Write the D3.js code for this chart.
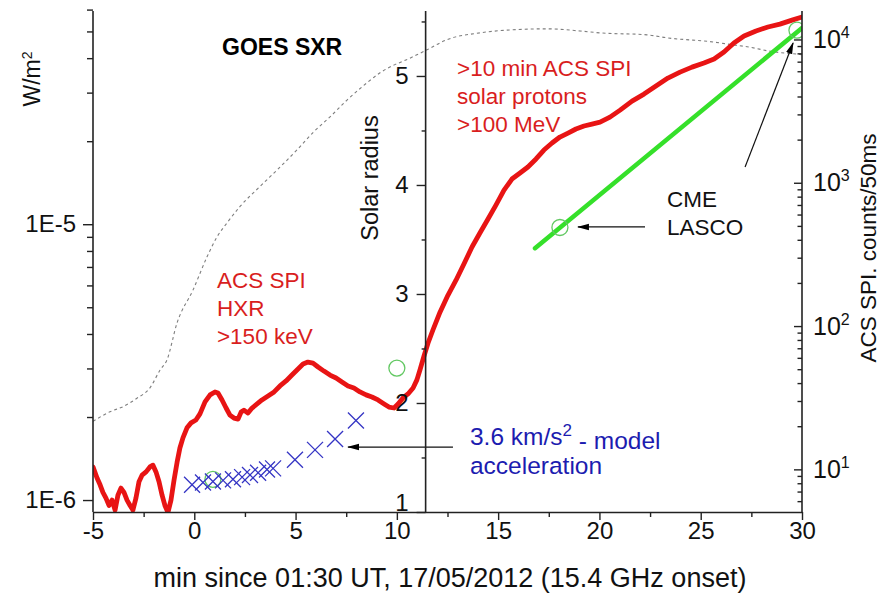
<!DOCTYPE html>
<html>
<head>
<meta charset="utf-8">
<script src="https://cdn.jsdelivr.net/npm/d3@7"></script>
<style>
  body { margin: 0; background: #fff; }
  svg { display: block; font-family: "Liberation Sans", Arial, sans-serif; }
</style>
</head>
<body>
<svg id="chart" width="882" height="598"></svg>
<script>
// ---- axis tick values ----
const timeTicks   = d3.range(-5, 30.01, 2.5);          // minutes, labels every 5
const radiusTicks = d3.range(1, 5.51, 0.5);            // solar radii, labels on integers
const fluxTicks   = [1e-6,2e-6,3e-6,4e-6,5e-6,6e-6,7e-6,8e-6,9e-6,1e-5,2e-5,3e-5,4e-5,5e-5,6e-5];
const fluxLabels  = {"0.000001": "1E-6", "0.00001": "1E-5"};
const countTicks  = [6,7,8,9,10,20,30,40,50,60,70,80,90,100,200,300,400,500,600,700,800,900,
                     1000,2000,3000,4000,5000,6000,7000,8000,9000,10000];

// ---- ACS SPI counts / 50 ms (HXR >150 keV, then protons >100 MeV) ----
const spiTime = [-5.00,-4.80,-4.65,-4.51,-4.36,-4.21,-4.06,-3.91,-3.77,-3.62,
  -3.47,-3.32,-3.17,-3.03,-2.88,-2.73,-2.58,-2.38,-2.19,-2.04,
  -1.89,-1.74,-1.59,-1.45,-1.30,-1.15,-1.00,-0.85,-0.71,-0.56,
  -0.36,-0.16,0.08,0.28,0.53,0.78,1.02,1.17,1.37,1.57,
  1.76,1.96,2.16,2.31,2.45,2.65,2.85,3.10,3.34,3.64,
  3.94,4.23,4.53,4.82,5.12,5.37,5.61,5.86,6.11,6.40,
  6.70,7.00,7.29,7.59,7.88,8.18,8.48,8.77,9.07,9.37,
  9.61,9.86,10.06,10.30,10.55,10.80,10.99,11.14,11.34,11.54,
  11.78,12.13,12.52,12.92,13.31,13.71,14.10,14.50,14.89,15.29,
  15.68,16.08,16.47,16.87,17.26,17.66,18.05,18.45,18.84,19.24,
  19.63,20.03,20.52,21.02,21.61,22.20,22.79,23.38,23.98,24.57,
  25.16,25.66,26.15,26.64,27.14,27.73,28.32,28.91,29.51,30.00];
const spiCounts = [10.4,8.7,7.8,6.9,6.3,5.6,6.1,5.2,6.6,7.4,
  6.9,6.1,5.6,5.2,6.3,8.2,9.1,9.6,10.4,10.7,
  9.6,8.2,6.6,5.6,5.0,6.1,8.4,11.2,14.1,16.6,
  19.5,21.1,22.1,24.4,29.6,33.1,34.7,34.1,30.5,26.8,
  23.9,22.8,22.4,25.1,25.9,24.7,26.8,28.6,30.5,32.5,
  34.7,38.2,41.4,45.5,50.1,54.3,56.1,55.2,51.8,48.5,
  45.5,43.4,40.7,38.2,37.0,34.7,33.1,32.0,30.5,28.6,
  27.2,26.8,28.6,31.5,33.6,37.0,42.1,49.4,61.8,76.2,
  93.9,125,164,209,271,356,446,558,698,889,
  1062,1169,1288,1466,1692,1894,2085,2223,2372,2489,
  2566,2650,2871,3213,3715,4159,4730,5380,5918,6413,
  6844,7297,8166,9443,10570,11460,12220,12800,13650,14330];

// ---- GOES soft X-ray flux, W/m^2 ----
const goesTime = [-5,-4.16,-3.52,-2.83,-2.19,-1.69,-1.35,-0.85,-0.06,0.63,
  1.12,1.61,2.26,3.24,4.23,5.07,5.86,6.70,7.54,8.33,
  9.17,10.80,11.49,12.48,14.10,15.73,17.41,19.04,20.03,22.35,
  23.34,25.61,26.60,27.29,28.57,29.56,30];
const goesFlux = [1.93e-6,2.09e-6,2.18e-6,2.34e-6,2.55e-6,2.96e-6,3.22e-6,4.39e-6,5.78e-6,7.62e-6,
  8.99e-6,1.01e-5,1.16e-5,1.37e-5,1.61e-5,1.86e-5,2.15e-5,2.45e-5,2.82e-5,3.17e-5,
  3.54e-5,4.05e-5,4.29e-5,4.67e-5,4.94e-5,5.07e-5,5.11e-5,5.02e-5,4.94e-5,4.86e-5,
  4.74e-5,4.58e-5,4.47e-5,4.40e-5,4.22e-5,4.15e-5,4.12e-5];

// ---- model heights for 3.6 km/s^2 acceleration, solar radii ----
const modelTime   = [-0.11,0.43,0.92,1.42,1.91,2.36,2.75,3.15,3.59,3.89,4.97,5.96,6.95,7.98];
const modelRadius = [1.25,1.27,1.28,1.29,1.30,1.32,1.34,1.36,1.39,1.40,1.48,1.57,1.67,1.84];

// ---- CME heights (LASCO) and linear fit, solar radii ----
const cmeTime   = [0.92, 10.0, 18.05, 29.75];
const cmeRadius = [1.30, 2.32, 3.61, 5.42];
const fitTime   = [16.82, 30.0];
const fitRadius = [3.42, 5.44];

// ---- layout ----
const WIDTH = 882, HEIGHT = 598;
const plotL = 93, plotR = 802, plotT = 11, plotB = 512;
const radiusAxisTime = 11.42;

const svg = d3.select("#chart");
svg.append("rect").attr("width", WIDTH).attr("height", HEIGHT).attr("fill", "#fff");

const x  = d3.scaleLinear().domain([-5, 30]).range([plotL, plotR]);
const yR = d3.scaleLinear().domain([1, 5.596]).range([plotB, plotT]);
const yW = d3.scaleLog().domain([9.05e-7, 5.93e-5]).range([plotB, plotT]);
const yC = d3.scaleLog().domain([5.04, 15800]).range([plotB, plotT]);

const defs = svg.append("defs");
defs.append("clipPath").attr("id", "plot")
  .append("rect").attr("x", plotL).attr("y", plotT)
  .attr("width", plotR - plotL).attr("height", plotB - plotT);
defs.append("marker").attr("id", "head")
  .attr("viewBox", "0 0 12 8").attr("refX", 11).attr("refY", 4)
  .attr("markerWidth", 12).attr("markerHeight", 8)
  .attr("markerUnits", "userSpaceOnUse").attr("orient", "auto")
  .append("path").attr("d", "M0,0.8 L12,4 L0,7.2 Z").attr("fill", "#000");

const plot = svg.append("g").attr("clip-path", "url(#plot)");

// GOES SXR (dashed)
plot.append("path")
  .datum(goesTime.map((t, i) => [t, goesFlux[i]]))
  .attr("fill", "none").attr("stroke", "#7e7e7e").attr("stroke-width", 1.1)
  .attr("stroke-dasharray", "3,3")
  .attr("d", d3.line().x(d => x(d[0])).y(d => yW(d[1])).curve(d3.curveMonotoneX));

// ACS SPI counts
plot.append("path")
  .datum(spiTime.map((t, i) => [t, spiCounts[i]]))
  .attr("fill", "none").attr("stroke", "#e81414").attr("stroke-width", 4.8)
  .attr("stroke-linejoin", "round").attr("stroke-linecap", "round")
  .attr("d", d3.line().x(d => x(d[0])).y(d => yC(d[1])));

// CME linear fit
plot.append("path")
  .datum(fitTime.map((t, i) => [t, fitRadius[i]]))
  .attr("fill", "none").attr("stroke", "#35e02a").attr("stroke-width", 4.5)
  .attr("stroke-linecap", "round")
  .attr("d", d3.line().x(d => x(d[0])).y(d => yR(d[1])));

// CME points
plot.selectAll("circle.cme")
  .data(cmeTime.map((t, i) => [t, cmeRadius[i]]))
  .join("circle").attr("class", "cme")
  .attr("cx", d => x(d[0])).attr("cy", d => yR(d[1])).attr("r", 8)
  .attr("fill", "none").attr("stroke", "#62c862").attr("stroke-width", 1.3);

// model acceleration crosses
plot.selectAll("path.model")
  .data(modelTime.map((t, i) => [t, modelRadius[i]]))
  .join("path").attr("class", "model")
  .attr("transform", d => `translate(${x(d[0])},${yR(d[1])})`)
  .attr("d", "M-8,-8L8,8M-8,8L8,-8")
  .attr("stroke", "#3434c4").attr("stroke-width", 1.3).attr("fill", "none");

// arrows
const arrows = [
  {from: [22.25, 3.615], to: [18.94, 3.615]},
  {from: [12.77, 1.596], to: [7.59, 1.596]},
  {from: [27.19, 4.165], to: [29.56, 5.303]}
];
svg.selectAll("line.arrow").data(arrows).join("line").attr("class", "arrow")
  .attr("x1", d => x(d.from[0])).attr("y1", d => yR(d.from[1]))
  .attr("x2", d => x(d.to[0])).attr("y2", d => yR(d.to[1]))
  .attr("stroke", "#111").attr("stroke-width", 1.2)
  .attr("marker-end", "url(#head)");

// ---- axes ----
function styleAxis(g, size) {
  g.selectAll("path.domain").attr("stroke", "#222").attr("stroke-width", 1.6);
  g.selectAll(".tick line").attr("stroke", "#222").attr("stroke-width", 1.4);
  g.selectAll(".tick text").attr("fill", "#111").attr("font-size", size || 24)
    .attr("font-family", "'Liberation Sans', Arial, sans-serif");
}

// bottom time axis
const gx = svg.append("g").attr("transform", `translate(0,${plotB})`)
  .call(d3.axisBottom(x).tickValues(timeTicks).tickSize(8).tickSizeOuter(0).tickPadding(2)
    .tickFormat(d => (Math.abs(d % 5) < 1e-9 ? String(d) : "")));
gx.selectAll(".tick").filter(d => Math.abs(d % 5) > 1e-9).select("line").attr("y2", 5);
styleAxis(gx);

// left flux axis
const gw = svg.append("g").attr("transform", `translate(${plotL},0)`)
  .call(d3.axisLeft(yW).tickValues(fluxTicks).tickSize(10).tickSizeOuter(0).tickPadding(7)
    .tickFormat(d => fluxLabels[String(d)] || ""));
gw.selectAll(".tick").filter(d => !fluxLabels[String(d)]).select("line").attr("x2", -6);
gw.select("path.domain").attr("d", `M0,${plotT}V${plotB}`);
styleAxis(gw);

// middle radius axis
const gr = svg.append("g").attr("transform", `translate(${x(radiusAxisTime)},0)`)
  .call(d3.axisLeft(yR).tickValues(radiusTicks).tickSize(9).tickSizeOuter(0).tickPadding(8)
    .tickFormat(d => (Number.isInteger(d) ? String(d) : "")));
gr.selectAll(".tick").filter(d => !Number.isInteger(d)).select("line").attr("x2", -4);
gr.select("path.domain").attr("d", `M0,${plotT}V${plotB}`);
styleAxis(gr);
// lift the lowest label clear of the time-axis labels
gr.selectAll(".tick").filter(d => d === 1).select("text").attr("y", -9);

// right counts axis (ticks inward, labels as powers of ten)
const isDecade = d => Math.abs(Math.log10(d) - Math.round(Math.log10(d))) < 1e-9;
const gc = svg.append("g").attr("transform", `translate(${plotR},0)`)
  .call(d3.axisRight(yC).tickValues(countTicks).tickSize(-8).tickSizeOuter(0).tickPadding(11)
    .tickFormat(() => ""));
gc.selectAll(".tick").filter(d => !isDecade(d)).select("line").attr("x2", -4.5);
gc.select("path.domain").attr("d", `M0,${plotT}V${plotB}`);
styleAxis(gc, 25);
gc.selectAll(".tick").filter(d => isDecade(d)).select("text")
  .each(function (d) {
    const t = d3.select(this);
    t.text("10");
    t.append("tspan").attr("dy", "-0.62em").attr("font-size", 16)
      .text(Math.round(Math.log10(d)));
  });

// ---- axis titles ----
const wTitle = svg.append("text")
  .attr("transform", `translate(40,79) rotate(-90)`)
  .attr("text-anchor", "middle").attr("font-size", 23).attr("fill", "#111");
wTitle.append("tspan").text("W/m");
wTitle.append("tspan").attr("dy", "-0.6em").attr("font-size", 14).text("2");

svg.append("text")
  .attr("transform", `translate(378,178) rotate(-90)`)
  .attr("text-anchor", "middle").attr("font-size", 23.5).attr("fill", "#111")
  .text("Solar radius");

svg.append("text")
  .attr("transform", `translate(876,248) rotate(-90)`)
  .attr("text-anchor", "middle").attr("font-size", 22.5).attr("fill", "#111")
  .text("ACS SPI. counts/50ms");

svg.append("text")
  .attr("x", 450).attr("y", 587)
  .attr("text-anchor", "middle").attr("font-size", 27).attr("fill", "#111")
  .text("min since 01:30 UT, 17/05/2012 (15.4 GHz onset)");

// ---- annotations ----
function block(t, r, lines, color, size, weight) {
  const g = svg.append("text")
    .attr("x", x(t)).attr("y", yR(r))
    .attr("font-size", size).attr("fill", color).attr("font-weight", weight || "normal");
  lines.forEach((s, i) => g.append("tspan").attr("x", x(t)).attr("dy", i ? 28 : 0).text(s));
  return g;
}
block(1.37, 5.193, ["GOES SXR"], "#000", 23, "bold");
block(1.12, 3.055, ["ACS SPI", "HXR", ">150 keV"], "#d91e1e", 22.5);
block(12.97, 5.0, [">10 min ACS SPI", "solar protons", ">100 MeV"], "#d91e1e", 22.5);
block(23.34, 3.798, ["CME", "LASCO"], "#111", 22.5);

const acc = svg.append("text").attr("x", x(13.61)).attr("y", yR(1.615))
  .attr("font-size", 24.5).attr("fill", "#1c1cb0");
acc.append("tspan").text("3.6 km/s");
acc.append("tspan").attr("dy", "-0.5em").attr("font-size", 17).text("2");
acc.append("tspan").attr("dy", "0.5em").text(" - model");
svg.append("text").attr("x", x(13.61)).attr("y", yR(1.615) + 29)
  .attr("font-size", 24.5).attr("fill", "#1c1cb0").text("acceleration");
</script>
</body>
</html>
